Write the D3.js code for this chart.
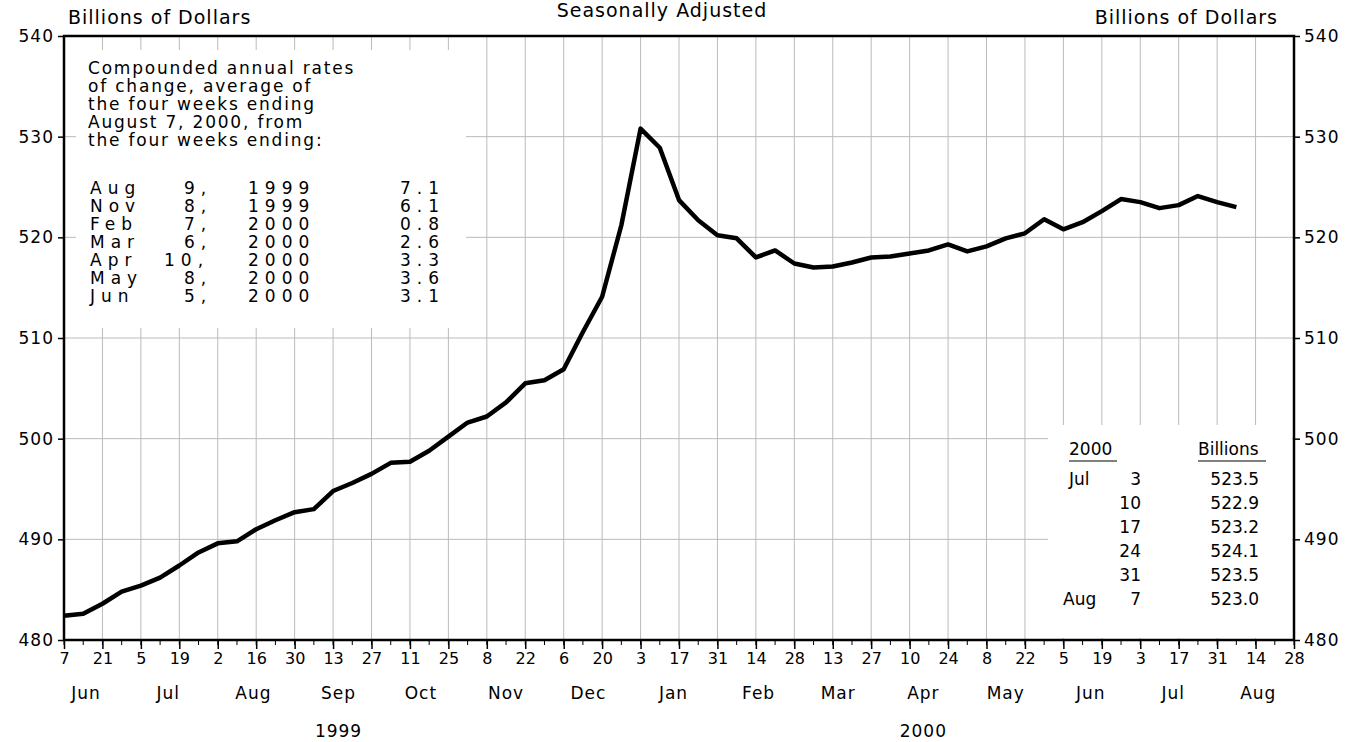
<!DOCTYPE html>
<html><head><meta charset="utf-8">
<script src="https://cdn.jsdelivr.net/npm/d3@7"></script>
<style>body{margin:0;background:#fff}text{font-family:"DejaVu Sans",sans-serif;fill:#000}</style>
</head><body><svg id="c" width="1359" height="742"></svg>
<script>
// weekly values, week ending Mon Jun 7 1999 .. Aug 7 2000
var values = [482.4,482.6,483.6,484.8,485.4,486.2,487.4,488.7,489.6,489.8,491.0,491.9,492.7,493.0,494.8,495.6,496.5,497.6,497.7,498.8,500.2,501.6,502.2,503.6,505.5,505.8,506.9,510.6,514.1,521.2,530.8,528.9,523.7,521.7,520.2,519.9,518.0,518.7,517.4,517.0,517.1,517.5,518.0,518.1,518.4,518.7,519.3,518.6,519.1,519.9,520.4,521.8,520.8,521.5,522.6,523.8,523.5,522.9,523.2,524.1,523.5,523.0];
var yTicks = [480,490,500,510,520,530,540];
var months = ["Jun","Jul","Aug","Sep","Oct","Nov","Dec","Jan","Feb","Mar","Apr","May","Jun","Jul","Aug"];
var rateRows = [["Aug","9,","1999","7.1"],["Nov","8,","1999","6.1"],["Feb","7,","2000","0.8"],["Mar","6,","2000","2.6"],["Apr","10,","2000","3.3"],["May","8,","2000","3.6"],["Jun","5,","2000","3.1"]];
var tableRows = [["Jul","3","523.5"],["","10","522.9"],["","17","523.2"],["","24","524.1"],["","31","523.5"],["Aug","7","523.0"]];
var noteLines = ["Compounded annual rates","of change, average of","the four weeks ending","August 7, 2000, from","the four weeks ending:"];

var svg = d3.select("#c");
var L=64,R=1294,T=36,B=640;
var start = new Date(1999,5,7), end = new Date(2000,7,28);
var x = d3.scaleTime().domain([start,end]).range([L,R]);
var y = d3.scaleLinear().domain([480,540]).range([B,T]);
var dates = values.map(function(v,i){return d3.timeDay.offset(start,7*i);});
var majors = d3.range(0,33).map(function(i){return d3.timeDay.offset(start,14*i);});

var g = svg.append("g");
g.selectAll(".vg").data(majors.slice(1,-1)).enter().append("line")
  .attr("x1",x).attr("x2",x).attr("y1",T).attr("y2",B).attr("stroke","#bbb").attr("stroke-width",1);
g.selectAll(".hg").data(yTicks.slice(1,-1)).enter().append("line")
  .attr("x1",L).attr("x2",R).attr("y1",y).attr("y2",y).attr("stroke","#bbb").attr("stroke-width",1);

// inset boxes (white)
svg.append("rect").attr("x",76).attr("y",50).attr("width",390).attr("height",278).attr("fill","#fff");
svg.append("rect").attr("x",1048).attr("y",425).attr("width",244).attr("height",213).attr("fill","#fff");

svg.append("rect").attr("x",L).attr("y",T).attr("width",R-L).attr("height",B-T)
  .attr("fill","none").attr("stroke","#000").attr("stroke-width",2.5);

// y axes
var yl = svg.append("g").attr("transform","translate("+L+",0)")
  .call(d3.axisLeft(y).tickValues(yTicks).tickSize(6).tickPadding(4));
var yr = svg.append("g").attr("transform","translate("+R+",0)")
  .call(d3.axisRight(y).tickValues(yTicks).tickSize(6).tickPadding(4));
[yl,yr].forEach(function(a){a.select(".domain").remove();a.selectAll("line").attr("stroke-width",1.5);
  a.selectAll("text").style("font-size","17px").style("font-family","DejaVu Sans").style("letter-spacing","1px");});

// x axis
var xa = svg.append("g").attr("transform","translate(0,"+B+")")
  .call(d3.axisBottom(x).tickValues(majors).tickSize(9).tickPadding(4).tickFormat(d3.timeFormat("%-d")));
xa.select(".domain").remove();
xa.selectAll("line").attr("stroke-width",1.5);
xa.selectAll("text").style("font-size","16px").style("font-family","DejaVu Sans");
svg.selectAll(".minor").data(d3.range(0,65).map(function(i){return d3.timeDay.offset(start,7*i);}))
  .enter().append("line").attr("x1",x).attr("x2",x).attr("y1",B).attr("y2",B+5).attr("stroke","#000");

var mdates = months.map(function(m,i){return new Date(1999,5+i,15);});
svg.selectAll(".mon").data(months).enter().append("text")
  .attr("x",function(d,i){return x(mdates[i]);}).attr("y",699).attr("text-anchor","middle")
  .style("font-size","17px").style("letter-spacing","1px").text(function(d){return d;});
svg.append("text").attr("x",x(new Date(1999,8,15))).attr("y",737).attr("text-anchor","middle").style("font-size","17px").style("letter-spacing","1px").text("1999");
svg.append("text").attr("x",x(new Date(2000,3,15))).attr("y",737).attr("text-anchor","middle").style("font-size","17px").style("letter-spacing","1px").text("2000");

// titles
svg.append("text").attr("x",68).attr("y",24).style("font-size","19px").style("letter-spacing","1px").text("Billions of Dollars");
svg.append("text").attr("x",1278).attr("y",24).attr("text-anchor","end").style("font-size","19px").style("letter-spacing","1px").text("Billions of Dollars");
svg.append("text").attr("x",662).attr("y",17).attr("text-anchor","middle").style("font-size","19px").style("letter-spacing","1px").text("Seasonally Adjusted");

// line
svg.append("path").datum(values).attr("fill","none").attr("stroke","#000").attr("stroke-width",4.5)
  .attr("stroke-linejoin","round")
  .attr("d",d3.line().x(function(d,i){return x(dates[i]);}).y(function(d){return y(d);}));

// left note
noteLines.forEach(function(t,i){
  svg.append("text").attr("x",88).attr("y",74+i*18).style("font-size","17px").style("letter-spacing","1.8px").text(t);});
rateRows.forEach(function(r,i){
  var yy = 194+i*18;
  var xs = [90, r[1].length>2 ? 164 : 184, 248, 400];
  r.forEach(function(t,j){
    svg.append("text").attr("x",xs[j]).attr("y",yy).style("font-size","17px")
      .style("letter-spacing","6px").text(t);
  });
});

// right table
svg.append("text").attr("x",1069).attr("y",455).style("font-size","17px").text("2000");
svg.append("text").attr("x",1198).attr("y",455).style("font-size","17px").text("Billions");
svg.append("line").attr("x1",1069).attr("x2",1117).attr("y1",461).attr("y2",461).attr("stroke","#000");
svg.append("line").attr("x1",1198).attr("x2",1266).attr("y1",461).attr("y2",461).attr("stroke","#000");
tableRows.forEach(function(r,i){
  var yy=485+i*24;
  svg.append("text").attr("x",r[0]=="Aug"?1063:1069).attr("y",yy).style("font-size","17px").text(r[0]);
  svg.append("text").attr("x",1141).attr("y",yy).attr("text-anchor","end").style("font-size","17px").text(r[1]);
  svg.append("text").attr("x",1259).attr("y",yy).attr("text-anchor","end").style("font-size","17px").text(r[2]);
});
</script></body></html>
